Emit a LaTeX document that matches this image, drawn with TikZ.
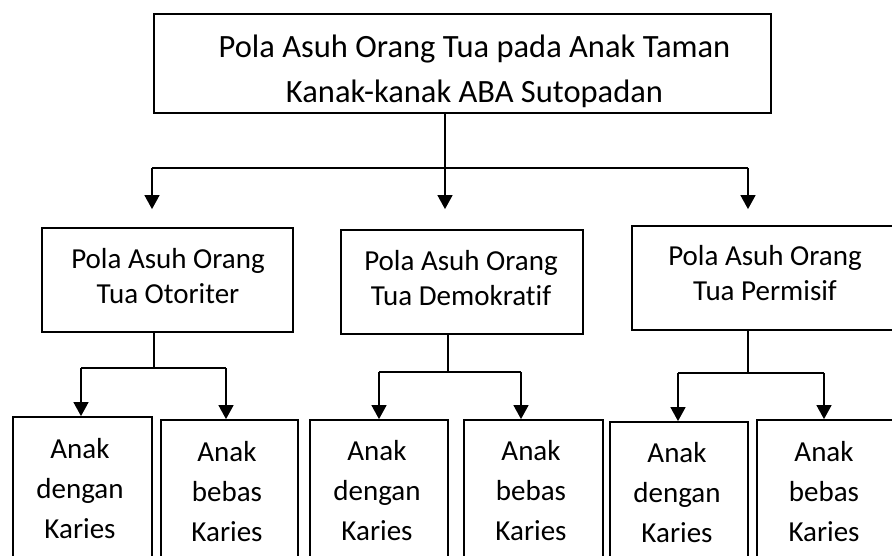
\documentclass[tikz,border=0pt]{standalone}
\usepackage{fontspec}
\setmainfont{Carlito}[Ligatures=NoCommon]
\usetikzlibrary{arrows.meta}
\tikzset{
  box/.style={draw=black, line width=1.8pt, inner sep=0pt, fill=none},
  txt/.style={align=center, inner sep=0pt},
  toptxtstyle/.style={txt, font=\fontsize{32.5}{45}\selectfont},
  midtxtstyle/.style={txt, font=\fontsize{29}{35}\selectfont},
  bottxtstyle/.style={txt, font=\fontsize{29}{40}\selectfont},
  conn/.style={line width=1.4pt},
  arr/.style={line width=1.4pt, -{Triangle[width=15pt,length=14pt]}},
}
\begin{document}
\begin{tikzpicture}[x=1pt,y=-1pt]
\useasboundingbox (0,0) rectangle (892,556);
\clip (0,0) rectangle (892,556);
\fill[white] (0,0) rectangle (892,556);

% boxes
\node[box, minimum width=617pt, minimum height=99pt] (top) at (462.5,63.5) {};
\node[box, minimum width=251pt, minimum height=104pt] (otor) at (167.5,280) {};
\node[box, minimum width=242pt, minimum height=104pt] (demo) at (462,282) {};
\node[box, minimum width=263pt, minimum height=104pt] (perm) at (763.5,278) {};
\node[box, minimum width=139pt, minimum height=183pt] (b1) at (82.5,508.5) {};
\node[box, minimum width=137pt, minimum height=180pt] (b2) at (229.5,510) {};
\node[box, minimum width=138pt, minimum height=180pt] (b3) at (379,510) {};
\node[box, minimum width=139pt, minimum height=180pt] (b4) at (533.5,510) {};
\node[box, minimum width=138pt, minimum height=178pt] (b5) at (679,511) {};
\node[box, minimum width=139pt, minimum height=180pt] (b6) at (826.5,510) {};

% texts
\node[toptxtstyle] (toptxt) at (474.5,71.5) {Pola Asuh Orang Tua pada Anak Taman\\Kanak-kanak ABA Sutopadan};
\node[midtxtstyle] (otortxt) at (168,276.5) {Pola Asuh Orang\\Tua Otoriter};
\node[midtxtstyle] (demotxt) at (461,278.5) {Pola Asuh Orang\\Tua Demokratif};
\node[midtxtstyle] (permtxt) at (765,273.5) {Pola Asuh Orang\\Tua Permisif};
\node[bottxtstyle] (t1) at (80,489) {Anak\\dengan\\Karies};
\node[bottxtstyle] (t2) at (227,492) {Anak\\bebas\\Karies};
\node[bottxtstyle] (t3) at (377,491) {Anak\\dengan\\Karies};
\node[bottxtstyle] (t4) at (531,491) {Anak\\bebas\\Karies};
\node[bottxtstyle] (t5) at (677,493) {Anak\\dengan\\Karies};
\node[bottxtstyle] (t6) at (824,492) {Anak\\bebas\\Karies};

% first level connectors
\coordinate (j0) at (445,168);
\coordinate (jL) at (152,168);
\coordinate (jR) at (748,168);
\draw[conn] (top.south -| j0) -- (j0);
\draw[conn, line width=1.7pt] (jL) -- (jR);
\draw[arr, shorten >=18pt] (jL) -- (otor.north -| jL);
\draw[arr, shorten >=20pt] (j0) -- (demo.north -| j0);
\draw[arr, shorten >=16pt] (jR) -- (perm.north -| jR);

% second level: Otoriter
\coordinate (k1) at (154,368);
\coordinate (k1L) at (81,368);
\coordinate (k1R) at (226,368);
\draw[conn] (otor.south -| k1) -- (k1);
\draw[conn] (k1L) -- (k1R);
\draw[arr] (k1L) -- (b1.north -| k1L);
\draw[arr] (k1R) -- (b2.north -| k1R);

% second level: Demokratif
\coordinate (k2) at (448,372);
\coordinate (k2L) at (379,372);
\coordinate (k2R) at (521,372);
\draw[conn] (demo.south -| k2) -- (k2);
\draw[conn] (k2L) -- (k2R);
\draw[arr] (k2L) -- (b3.north -| k2L);
\draw[arr] (k2R) -- (b4.north -| k2R);

% second level: Permisif
\coordinate (k3) at (748,373);
\coordinate (k3L) at (678,373);
\coordinate (k3R) at (824,373);
\draw[conn] (perm.south -| k3) -- (k3);
\draw[conn] (k3L) -- (k3R);
\draw[arr] (k3L) -- (b5.north -| k3L);
\draw[arr] (k3R) -- (b6.north -| k3R);
\end{tikzpicture}
\end{document}
